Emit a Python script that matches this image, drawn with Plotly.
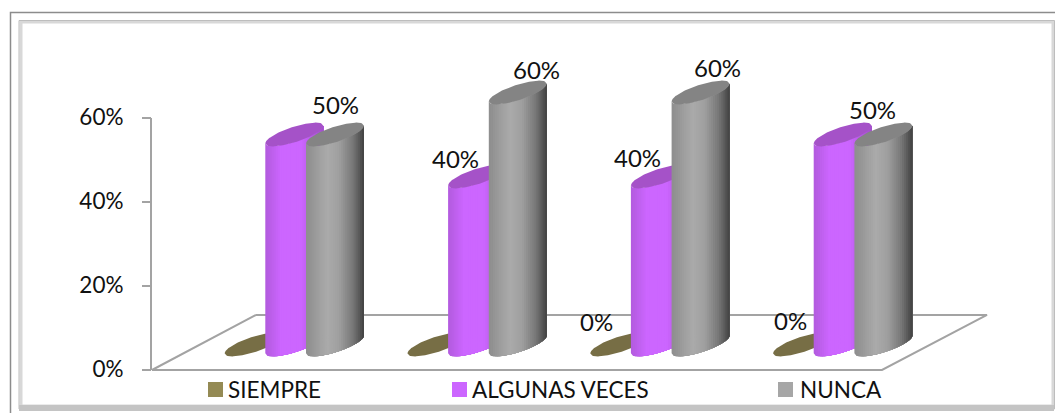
import numpy as np
import plotly.graph_objects as go

groups = [0, 1, 2, 3]
siempre = [0, 0, 0, 0]
algunas_veces = [50, 40, 40, 50]
nunca = [50, 60, 60, 50]
series_names = ["SIEMPRE", "ALGUNAS VECES", "NUNCA"]
tick_vals = [0, 20, 40, 60]
tick_text = ["0%", "20%", "40%", "60%"]

W, H = 1055, 413
PX_PER_PCT = 4.2          # vertical scale
PX_PER_GROUP = 182.8      # horizontal scale
Y0_PX = 370               # pixel row of 0%
X0_PX = 335               # pixel column of the first NUNCA cylinder

# cylinder shape, in axis units
radius = 29 / PX_PER_GROUP
series_gap = 40.7 / PX_PER_GROUP
slant = 2.1
bulge = 1.9
floor_y = 6.07
floor_back = 13.1

body_stops = {
    "ALGUNAS VECES": [(0, "#b45ce0"), (0.25, "#cc66ff"), (0.6, "#cc66ff"), (1, "#a050c8")],
    "NUNCA": [(0, "#8f8f8f"), (0.35, "#ababab"), (0.55, "#a0a0a0"), (0.8, "#767676"), (1, "#3c3c3c")],
}
cap_color = {"SIEMPRE": "#776e45", "ALGUNAS VECES": "#a552c8", "NUNCA": "#848484"}
legend_color = {"SIEMPRE": "#948a54", "ALGUNAS VECES": "#cc66ff", "NUNCA": "#a6a6a6"}
TICK_FONT = dict(family="Lato", size=22.5, color="#111111")
LABEL_FONT = dict(family="Lato", size=24, color="#111111")
LEGEND_FONT = dict(family="Lato", size=22.5, color="#111111")
AXIS_COLOR = "#a3a3a3"


def px(x):
    return x / W


def py(y):
    return 1 - y / H


def to_x(p):
    return (p - X0_PX) / PX_PER_GROUP


def shade(stops, pos):
    pos_list = [s[0] for s in stops]
    rgb = [[int(s[1][i:i + 2], 16) for i in (1, 3, 5)] for s in stops]
    return "rgb(%d,%d,%d)" % tuple(np.interp(pos, pos_list, [c[k] for c in rgb]) for k in range(3))


def arc(u, centre, sign):
    # sign -1 is the near (lower) rim of the slanted ellipse, +1 the far rim
    return centre + slant * u + sign * bulge * np.sqrt(np.clip(1 - u * u, 0, 1))


def add_cylinder(fig, cx, value, name):
    top = floor_y + value
    if value > 0:
        stops = body_stops[name]
        for start in np.linspace(-1, 1, 28, endpoint=False):
            u = np.linspace(start, 1, 30)
            xs = np.r_[cx + radius * u, (cx + radius * u)[::-1]]
            ys = np.r_[arc(u, floor_y, -1), arc(u, top, -1)[::-1]]
            fig.add_trace(go.Scatter(x=xs, y=ys, mode="lines", fill="toself", line=dict(width=0),
                                     fillcolor=shade(stops, (start + 1) / 2), hoverinfo="skip", showlegend=False))
    t = np.linspace(-1, 1, 60)
    xs = np.r_[cx + radius * t, (cx + radius * t)[::-1]]
    ys = np.r_[arc(t, top, -1), arc(t, top, 1)[::-1]]
    fig.add_trace(go.Scatter(x=xs, y=ys, mode="lines", fill="toself", line=dict(width=0),
                             fillcolor=cap_color[name], hoverinfo="skip", showlegend=False))


fig = go.Figure()

# frame with its bevel, behind everything
frame = [
    (10.5, 12.5, 1060, 420, "#8c8c8c", 1.5),
    (21, 22, 1053, 406, "#d8d8d8", 3),
    (19, 20.5, 1054.5, 409, "#bdbdbd", 1),
]
shapes = []
for x0, y0, x1, y1, col, w in frame:
    shapes.append(dict(type="rect", xref="paper", yref="paper", x0=px(x0), x1=px(x1), y0=py(y0), y1=py(y1),
                       line=dict(color=col, width=w), layer="below"))
shapes.append(dict(type="rect", xref="paper", yref="paper", x0=px(19), x1=px(1054), y0=py(405), y1=py(411),
                   fillcolor="#c4c4c4", line=dict(width=0), layer="below"))

# floor of the 3D box
left_px, right_px, back_l, back_r = 152, 882, 256, 987
fig.add_trace(go.Scatter(
    x=[to_x(back_l), to_x(back_r), to_x(right_px), to_x(left_px), to_x(back_l)],
    y=[floor_back, floor_back, 0, 0, floor_back],
    mode="lines", line=dict(color=AXIS_COLOR, width=2), hoverinfo="skip", showlegend=False))
fig.add_trace(go.Scatter(x=[to_x(151), to_x(151)], y=[tick_vals[0], tick_vals[-1]], mode="lines",
                         line=dict(color=AXIS_COLOR, width=2), hoverinfo="skip", showlegend=False))

# cylinders, back to front per group
for g in groups:
    add_cylinder(fig, g - 2 * series_gap, siempre[g], series_names[0])
    add_cylinder(fig, g - series_gap, algunas_veces[g], series_names[1])
    add_cylinder(fig, g, nunca[g], series_names[2])

# data labels, nudged by hand in the source chart: (group, series index, dx, dy) in px
label_spots = [
    (0, 2, 0, 30), (1, 1, -22, 18), (1, 2, 19, 23), (2, 0, -23, 23),
    (2, 1, -22, 19), (2, 2, 17, 25), (3, 0, -12, 24), (3, 2, -11, 25),
]
series_values = [siempre, algunas_veces, nunca]
for g, s, dx, dy in label_spots:
    value = series_values[s][g]
    fig.add_annotation(x=g + (s - 2) * series_gap, y=floor_y + value, text=f"{value}%", showarrow=False,
                       xshift=dx, yshift=dy, font=LABEL_FONT)

# legend row, spaced unevenly like the source so it is drawn by hand
legend_x = [to_x(215.5), to_x(459.5), to_x(785.5)]
legend_text_x = [to_x(226), to_x(470), to_x(798)]
legend_y = (Y0_PX - 389.5) / PX_PER_PCT
for name, lx, tx in zip(series_names, legend_x, legend_text_x):
    fig.add_trace(go.Scatter(x=[lx], y=[legend_y], mode="markers",
                             marker=dict(symbol="square", size=15, color=legend_color[name]),
                             hoverinfo="skip", showlegend=False))
    fig.add_annotation(x=tx, y=legend_y, text=name, showarrow=False, xanchor="left", font=LEGEND_FONT)

fig.update_layout(
    width=W, height=H, margin=dict(l=0, r=0, t=0, b=0), paper_bgcolor="white", plot_bgcolor="rgba(0,0,0,0)",
    shapes=shapes, showlegend=False,
    xaxis=dict(range=[to_x(0), to_x(W)], visible=False, fixedrange=True),
    yaxis=dict(range=[(Y0_PX - H) / PX_PER_PCT, Y0_PX / PX_PER_PCT], tickvals=tick_vals, ticktext=tick_text,
               showgrid=False, zeroline=False, showline=False, ticks="outside", ticklen=9, tickwidth=2,
               tickcolor=AXIS_COLOR, tickfont=TICK_FONT, anchor="free", position=151 / W, ticklabelstandoff=14,
               ticklabelshift=-1),
)

fig.write_html("out.html", post_script="document.body.style.margin='0';", config=dict(displayModeBar=False))
